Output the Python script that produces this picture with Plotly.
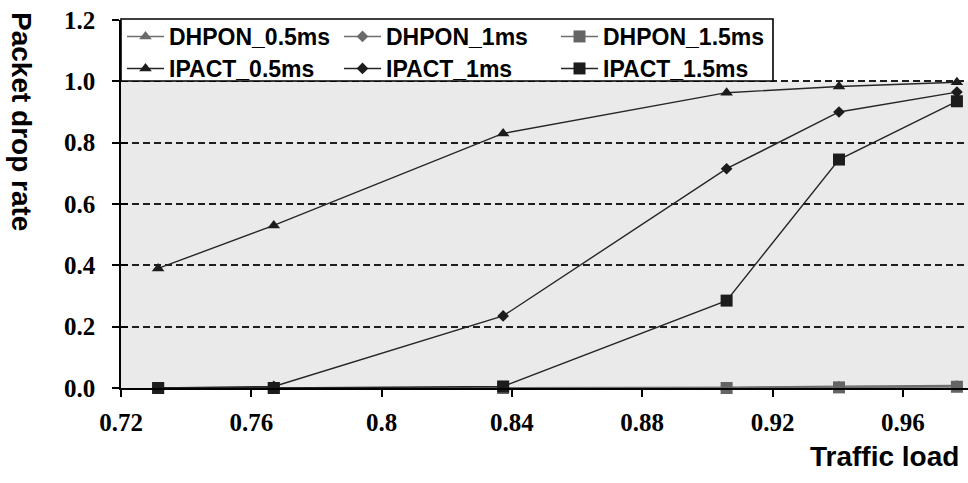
import plotly.graph_objects as go

# ---- data ----
traffic_load = [0.7314, 0.7669, 0.8373, 0.9059, 0.9404, 0.9766]

dhpon_05 = [0.0, 0.0, 0.0, 0.002, 0.006, 0.008]
dhpon_1 = [0.0, 0.0, 0.0, 0.001, 0.003, 0.005]
dhpon_15 = [0.0, 0.0, 0.0, 0.0, 0.002, 0.004]
ipact_05 = [0.39, 0.53, 0.83, 0.963, 0.983, 0.997]
ipact_1 = [0.0, 0.005, 0.235, 0.715, 0.90, 0.965]
ipact_15 = [0.0, 0.0, 0.005, 0.285, 0.745, 0.935]

series_names = ["DHPON_0.5ms", "DHPON_1ms", "DHPON_1.5ms",
                "IPACT_0.5ms", "IPACT_1ms", "IPACT_1.5ms"]
series_values = [dhpon_05, dhpon_1, dhpon_15, ipact_05, ipact_1, ipact_15]

x_tick_vals = [0.72, 0.76, 0.80, 0.84, 0.88, 0.92, 0.96]
x_tick_text = ["0.72", "0.76", "0.8", "0.84", "0.88", "0.92", "0.96"]
y_tick_vals = [0.0, 0.2, 0.4, 0.6, 0.8, 1.0, 1.2]
y_tick_text = ["0.0", "0.2", "0.4", "0.6", "0.8", "1.0", "1.2"]
grid_vals = [0.2, 0.4, 0.6, 0.8, 1.0]
shaded_top = 1.0

# ---- styles ----
symbols = ["triangle-up", "diamond", "square", "triangle-up", "diamond", "square"]
sizes = [11, 9, 12, 11, 9, 12]
colors = ["#6a6a6a", "#6a6a6a", "#646464", "#1c1c1c", "#1c1c1c", "#1c1c1c"]
line_colors = ["#6e6e6e", "#6e6e6e", "#6e6e6e", "#262626", "#262626", "#262626"]
legend_ids = ["legend", "legend", "legend", "legend2", "legend2", "legend2"]

W, H = 968, 483
ML, MR, MT, MB = 121, 0, 20, 95
PW, PH = W - ML - MR, H - MT - MB


def px_x(px):
    return (px - ML) / PW


def px_y(py):
    return (H - MB - py) / PH


fig = go.Figure()
for name, vals, sym, sz, col, lc, lg in zip(series_names, series_values, symbols,
                                            sizes, colors, line_colors, legend_ids):
    fig.add_trace(go.Scatter(
        x=traffic_load, y=vals, name=name, mode="lines+markers",
        line=dict(color=lc, width=1.4),
        marker=dict(symbol=sym, size=sz, color=col, line=dict(width=0)),
        cliponaxis=False, legend=lg,
    ))

tick_font = dict(family="Liberation Serif", size=25, color="black", weight="bold")
label_font = dict(family="Liberation Sans", size=28, color="black", weight="bold")
legend_font = dict(family="Liberation Sans", size=23, color="black", weight="bold")

legend_common = dict(
    orientation="h", xanchor="left", yanchor="top",
    bgcolor="rgba(0,0,0,0)", borderwidth=0, font=legend_font,
    entrywidth=165, entrywidthmode="pixels", itemwidth=37,
)

fig.update_layout(
    width=W, height=H,
    margin=dict(l=ML, r=MR, t=MT, b=MB, pad=0, autoexpand=False),
    paper_bgcolor="white", plot_bgcolor="white",
    showlegend=True,
    xaxis=dict(
        range=[0.72, 0.98], tickmode="array", tickvals=x_tick_vals,
        ticktext=x_tick_text, ticks="outside", ticklen=7, tickwidth=1.5,
        tickcolor="black", showline=True, linecolor="black", linewidth=1.5,
        showgrid=False, zeroline=False, tickfont=tick_font,
        ticklabelstandoff=4, automargin=False,
    ),
    yaxis=dict(
        range=[0, 1.2], tickmode="array", tickvals=y_tick_vals,
        ticktext=y_tick_text, ticks="outside", ticklen=7, tickwidth=1.5,
        tickcolor="black", showline=True, linecolor="black", linewidth=1.5,
        showgrid=False, zeroline=False, tickfont=tick_font,
        ticklabelstandoff=12, automargin=False,
    ),
    yaxis2=dict(
        overlaying="y", range=[0, 1.2], tickmode="array", tickvals=grid_vals,
        showticklabels=False, ticks="", showgrid=True, gridcolor="#1e1e1e",
        gridwidth=1.6, griddash="7px,4px", zeroline=False, showline=False,
        automargin=False,
    ),
    yaxis3=dict(
        overlaying="y", range=[0, 1.2], tickmode="array", tickvals=y_tick_vals,
        showticklabels=False, ticks="inside", ticklen=7, tickwidth=1.5,
        tickcolor="black", showgrid=False, zeroline=False, showline=False,
        automargin=False,
    ),
    legend=dict(x=px_x(122), y=px_y(15), **legend_common),
    legend2=dict(x=px_x(122), y=px_y(47), **legend_common),
    shapes=[
        dict(type="rect", xref="paper", x0=0, x1=1, yref="y", y0=0, y1=shaded_top,
             fillcolor="#eaeaea", line=dict(width=0), layer="below"),
        # legend box
        dict(type="rect", xref="paper", yref="paper",
             x0=px_x(121), x1=px_x(773), y0=px_y(81), y1=px_y(19),
             fillcolor="white", line=dict(color="black", width=1.6), layer="above"),
    ],
    annotations=[
        dict(text="Packet drop rate", textangle=90, xref="paper", yref="paper",
             x=px_x(21.5), y=px_y(121.5),
             xanchor="center", yanchor="middle", showarrow=False, font=label_font),
        dict(text="Traffic load", xref="paper", yref="paper",
             x=px_x(884.5), y=px_y(456),
             xanchor="center", yanchor="middle", showarrow=False, font=label_font),
    ],
)

# invisible helper traces so that the overlay axes (grid, inner ticks) are drawn
fig.add_trace(go.Scatter(x=[0.72], y=[0], yaxis="y2", showlegend=False,
                         mode="markers", marker=dict(opacity=0), hoverinfo="skip"))
fig.add_trace(go.Scatter(x=[0.72], y=[0], yaxis="y3", showlegend=False,
                         mode="markers", marker=dict(opacity=0), hoverinfo="skip"))

fig.write_html("out.html",
               config={"displayModeBar": False},
               post_script="document.body.style.margin='0px';"
                           "document.body.style.overflow='hidden';")
